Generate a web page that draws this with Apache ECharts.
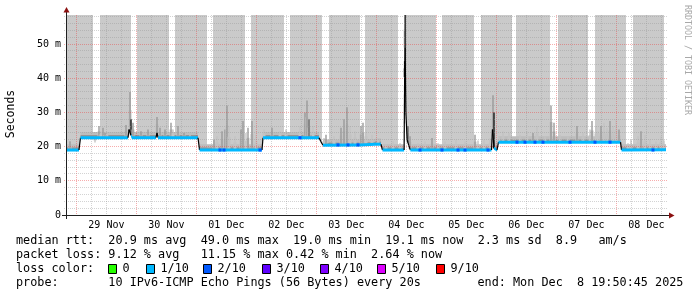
<!DOCTYPE html>
<html><head><meta charset="utf-8">
<script src="https://cdn.jsdelivr.net/npm/echarts@6/dist/echarts.min.js"></script>
<style>html,body{margin:0;padding:0;background:#fff}#c{width:697px;height:297px}</style>
</head><body><div id="c"></div>
<script>
// ===== DATA (time in hours after 28 Nov 00:00, values in ms) =====
const xTickHours  = [36, 60, 84, 108, 132, 156, 180, 204, 228, 252];
const xTickLabels = ['29 Nov','30 Nov','01 Dec','02 Dec','03 Dec','04 Dec','05 Dec','06 Dec','07 Dec','08 Dec'];
const yTickValues = [0, 10, 20, 30, 40, 50];
const yTickLabels = ['0', '10 m', '20 m', '30 m', '40 m', '50 m'];

// grey "smoke" columns (upper pings off-scale)
const bandStart = [20.25, 33.45, 48.25, 63.45, 78.65, 93.85, 109.45, 125.05, 139.45, 155.45, 170.25, 185.85, 199.85, 216.65, 231.45, 246.65];
const bandEnd   = [30.65, 45.85, 61.05, 76.25, 91.45, 107.05, 122.25, 137.45, 152.65, 167.85, 183.05, 198.25, 213.45, 228.65, 243.85, 259.05];

// median rtt path
const medianTime = [19.85, 25.05, 25.65, 44.65, 45.05, 45.85, 46.25, 55.85, 56.25, 56.65, 72.65, 73.25, 98.25, 98.65, 121.05, 121.85, 122.65, 137.45, 143.45, 145.85, 146.45, 155.1, 155.3, 155.5, 155.8, 156.3, 157.0, 157.6, 190.05, 190.45, 191.05, 192.25, 192.85, 241.65, 242.05, 259.85];
const medianRtt  = [19.0, 19.0, 22.6, 22.6, 25.0, 23.3, 22.6, 22.6, 24.0, 22.6, 22.6, 19.0, 19.0, 22.6, 22.6, 21.4, 20.4, 20.5, 20.7, 20.7, 19.0, 19.0, 40.3, 49.0, 30.0, 22.0, 20.3, 19.0, 19.0, 25.0, 19.5, 19.0, 21.3, 21.3, 19.0, 19.1];

// individual smoke spikes: time, top value, shade (0 light .. 3 black)
const smokeTime  = [21.45, 31.45, 33.05, 33.85, 34.65, 35.45, 36.25, 43.85, 45.45, 45.85, 46.65, 49.85, 52.65, 56.25, 57.45, 59.45, 61.85, 62.65, 64.65, 67.05, 69.45, 79.05, 80.25, 82.25, 83.45, 84.25, 85.05, 87.45, 89.85, 90.65, 91.85, 92.65, 94.25, 95.85, 99.05, 102.25, 105.45, 107.85, 113.45, 115.45, 116.25, 117.05, 118.65, 123.05, 123.85, 127.05, 129.85, 131.05, 132.25, 133.45, 135.45, 137.85, 138.65, 139.85, 142.25, 144.65, 147.85, 150.65, 153.45, 155.3, 155.5, 156.65, 157.45, 160.65, 163.45, 166.25, 168.65, 171.45, 175.85, 179.45, 183.45, 184.65, 187.05, 189.45, 190.65, 191.05, 193.05, 194.65, 197.05, 201.45, 204.25, 206.65, 208.25, 211.45, 213.85, 215.05, 217.45, 220.65, 224.25, 226.65, 229.45, 230.25, 231.85, 232.65, 233.85, 235.05, 236.25, 237.45, 238.65, 239.85, 241.05, 244.65, 245.85, 248.65, 249.85, 251.45, 253.45, 255.85, 257.85, 259.05];
const smokeTop   = [21.6, 21.2, 26, 24.5, 25.5, 24, 23.8, 26.3, 36, 28, 27, 24.5, 25, 28.7, 25.5, 25, 27, 25, 26, 24, 23.5, 22, 23, 24.5, 25, 32, 26, 23, 25, 27.5, 24, 25.5, 27.5, 23.5, 25, 25.5, 24.5, 25, 26, 30, 33.5, 28, 26, 22.5, 23.5, 23, 25.5, 28, 31.5, 26, 24.5, 26, 27, 25, 23.5, 22.5, 20.8, 21.6, 21, 45, 58.5, 26, 23, 21, 21.5, 22.5, 21, 21.5, 22, 21.5, 23.5, 21.8, 22, 22.5, 35, 30, 23, 24.5, 24, 23.5, 24.5, 24, 26, 23, 32, 27, 23.5, 23, 26, 24, 25, 27.5, 26, 24.5, 26, 27, 25.5, 27.5, 26, 28, 25, 21, 22, 23, 24.5, 23.5, 22, 21.5, 23, 21.8];
const smokeShade = [1, 0, 1, 0, 1, 1, 0, 1, 1, 3, 1, 1, 1, 1, 1, 1, 1, 0, 1, 1, 0, 1, 0, 1, 1, 1, 0, 0, 1, 1, 0, 1, 1, 0, 0, 1, 0, 0, 0, 1, 1, 2, 0, 0, 1, 0, 1, 1, 1, 0, 0, 1, 1, 0, 0, 0, 0, 0, 0, 3, 3, 2, 1, 0, 0, 1, 0, 0, 0, 0, 1, 0, 0, 0, 1, 3, 0, 0, 0, 0, 0, 1, 0, 0, 1, 1, 0, 0, 1, 0, 0, 1, 0, 0, 1, 0, 0, 1, 0, 0, 1, 0, 0, 0, 1, 0, 0, 0, 0, 0];

// median samples with 2/10 loss (dark blue)
const loss2Time = [81.45, 83.05, 97.45, 113.45, 128.65, 132.65, 136.65, 161.45, 170.25, 176.65, 179.45, 188.65, 200.25, 203.45, 207.45, 210.65, 221.45, 231.45, 237.45, 254.65];
const loss2Rtt  = [19.0, 19.0, 19.0, 22.6, 20.5, 20.5, 20.5, 19.0, 19.0, 19.0, 19.0, 19.0, 21.3, 21.3, 21.3, 21.3, 21.3, 21.3, 21.3, 19.0];

// legend
const lossLabels = ['0', '1/10', '2/10', '3/10', '4/10', '5/10', '9/10'];
const lossColors = ['#26ff00', '#00b8ff', '#0059ff', '#5e00ff', '#7e00ff', '#dd00ff', '#ff0000'];
const legendRow1 = 'median rtt:  20.9 ms avg  49.0 ms max  19.0 ms min  19.1 ms now  2.3 ms sd  8.9   am/s';
const legendRow2 = 'packet loss: 9.12 % avg   11.15 % max 0.42 % min  2.64 % now';
const legendRow3 = 'loss color:';
const legendRow4 = 'probe:       10 IPv6-ICMP Echo Pings (56 Bytes) every 20s';
const legendEnd  = 'end: Mon Dec  8 19:50:45 2025';
const yTitle = 'Seconds';
const watermark = 'RRDTOOL / TOBI OETIKER';

// ===== CHART =====
const T0 = 19.85, T1 = 259.85, YMAX = 58.5;
const MONO = '"DejaVu Sans Mono", monospace';
const chart = echarts.init(document.getElementById('c'), null, {renderer: 'canvas'});

function medianAt(h) {
  if (h <= medianTime[0]) return medianRtt[0];
  for (let i = 0; i < medianTime.length - 1; i++) {
    const a = medianTime[i], b = medianTime[i + 1];
    if (h >= a && h <= b) return b === a ? medianRtt[i + 1] : medianRtt[i] + (medianRtt[i + 1] - medianRtt[i]) * (h - a) / (b - a);
  }
  return medianRtt[medianRtt.length - 1];
}
const medianSegs = [];
for (let i = 0; i < medianTime.length - 1; i++) medianSegs.push([medianTime[i], medianRtt[i], medianTime[i + 1], medianRtt[i + 1]]);

// grid lines (every 6 h / every 2 ms; majors at midnight / every 10 ms)
const vGrid = [], hGrid = [];
for (let h = 24; h < T1; h += 6) vGrid.push([h, h % 24 === 0 ? 1 : 0]);
for (let v = 2; v < YMAX; v += 2) hGrid.push([v, v % 10 === 0 ? 1 : 0]);
const MINOR = 'rgba(150,150,150,0.42)', MAJOR = 'rgba(235,60,60,0.42)';

const shadeCol = ['#c3c3c3', '#9a9a9a', '#6a6a6a', '#1a1a1a'];

const option = {
  animation: false,
  backgroundColor: '#ffffff',
  grid: {left: 66, top: 15, width: 600, height: 200},
  xAxis: {
    type: 'value', min: T0, max: T1,
    axisLine: {show: false}, axisTick: {show: false}, splitLine: {show: false},
    axisLabel: {
      customValues: xTickHours,
      formatter: v => { const i = xTickHours.indexOf(v); return i >= 0 ? xTickLabels[i] : ''; },
      fontFamily: MONO, fontSize: 10, color: '#000', margin: 5
    }
  },
  yAxis: {
    type: 'value', min: 0, max: YMAX, interval: 10,
    axisLine: {show: false}, axisTick: {show: false}, splitLine: {show: false},
    axisLabel: {
      customValues: yTickValues,
      formatter: v => { const i = yTickValues.indexOf(v); return i >= 0 ? yTickLabels[i] : ''; },
      fontFamily: MONO, fontSize: 10, color: '#000', margin: 5
    }
  },
  series: [
    { // grey columns
      type: 'custom', z: 1, silent: true, clip: true,
      data: bandStart.map((s, i) => [s, bandEnd[i]]),
      encode: {x: [0, 1]},
      renderItem(params, api) {
        const s = api.value(0), e = api.value(1);
        const pts = [api.coord([s, YMAX]), api.coord([e, YMAX]), api.coord([e, medianAt(e)])];
        for (let i = medianTime.length - 1; i >= 0; i--) {
          if (medianTime[i] > s && medianTime[i] < e) pts.push(api.coord([medianTime[i], medianRtt[i]]));
        }
        pts.push(api.coord([s, medianAt(s)]));
        return {type: 'polygon', shape: {points: pts}, style: {fill: '#cacaca'}};
      }
    },
    { // smoke band just above median
      type: 'custom', z: 2, silent: true, clip: true,
      data: medianSegs,
      encode: {x: [0, 2], y: [1, 3]},
      renderItem(params, api) {
        const x0 = api.value(0), v0 = api.value(1), x1 = api.value(2), v1 = api.value(3);
        if (Math.abs(v1 - v0) > 0.8) return null;
        const a = api.coord([x0, v0]), b = api.coord([x1, v1]);
        const c = api.coord([x0, v0 + 0.8]), d = api.coord([x0, v0 + 1.7]);
        return {type: 'group', children: [
          {type: 'rect', shape: {x: a[0], y: d[1], width: b[0] - a[0], height: c[1] - d[1]}, style: {fill: '#bdbdbd'}},
          {type: 'rect', shape: {x: a[0], y: c[1], width: b[0] - a[0], height: a[1] - c[1]}, style: {fill: '#969696'}}
        ]};
      }
    },
    { // smoke spikes
      type: 'custom', z: 3, silent: true, clip: true,
      data: smokeTime.map((t, i) => [t, smokeTop[i], smokeShade[i]]),
      encode: {x: 0, y: 1},
      renderItem(params, api) {
        const t = api.value(0), top = api.value(1), sh = api.value(2);
        const base = medianAt(t);
        const p0 = api.coord([t, base]), p1 = api.coord([t, top]);
        const pm = api.coord([t, base + (top - base) * 0.55]);
        return {type: 'group', children: [
          {type: 'rect', shape: {x: p0[0] - 1.5, y: pm[1], width: 3, height: p0[1] - pm[1]}, style: {fill: '#c2c2c2'}},
          {type: 'rect', shape: {x: p0[0] - 0.7, y: p1[1], width: 1.4, height: p0[1] - p1[1]}, style: {fill: shadeCol[sh]}}
        ]};
      }
    },
    { // vertical grid
      type: 'custom', z: 4, silent: true,
      data: vGrid, encode: {x: 0},
      renderItem(params, api) {
        const p = api.coord([api.value(0), 0]);
        const cs = params.coordSys;
        const x = Math.floor(p[0]) + 0.5;
        return {type: 'line', shape: {x1: x, y1: cs.y, x2: x, y2: cs.y + cs.height + 2},
          style: {stroke: api.value(1) ? MAJOR : MINOR, lineWidth: 1, lineDash: [1, 1]}};
      }
    },
    { // horizontal grid
      type: 'custom', z: 4, silent: true,
      data: hGrid, encode: {y: 0},
      renderItem(params, api) {
        const p = api.coord([T0, api.value(0)]);
        const cs = params.coordSys;
        const y = Math.floor(p[1]) + 0.5;
        return {type: 'line', shape: {x1: cs.x - 2, y1: y, x2: cs.x + cs.width + 2, y2: y},
          style: {stroke: api.value(1) ? MAJOR : MINOR, lineWidth: 1, lineDash: [1, 1]}};
      }
    },
    { // median rtt
      type: 'custom', z: 5, silent: true, clip: true,
      data: medianSegs,
      encode: {x: [0, 2], y: [1, 3]},
      renderItem(params, api) {
        const x0 = api.value(0), v0 = api.value(1), x1 = api.value(2), v1 = api.value(3);
        const a = api.coord([x0, v0]), b = api.coord([x1, v1]);
        if (Math.abs(v1 - v0) <= 0.8) {
          return {type: 'polygon', shape: {points: [[a[0], a[1] - 1.5], [b[0], b[1] - 1.5], [b[0], b[1] + 1.5], [a[0], a[1] + 1.5]]},
            style: {fill: '#00b8ff'}};
        }
        return {type: 'line', shape: {x1: a[0], y1: a[1], x2: b[0], y2: b[1]}, style: {stroke: '#000', lineWidth: 1.2}};
      }
    },
    { // 2/10 loss samples
      type: 'custom', z: 6, silent: true, clip: true,
      data: loss2Time.map((t, i) => [t, loss2Rtt[i]]),
      encode: {x: 0, y: 1},
      renderItem(params, api) {
        const p = api.coord([api.value(0), api.value(1)]);
        return {type: 'rect', shape: {x: p[0] - 1.5, y: p[1] - 1.5, width: 3, height: 3}, style: {fill: '#0059ff'}};
      }
    }
  ],
  graphic: {elements: [
    // axes with arrows
    {type: 'line', z: 10, shape: {x1: 62, y1: 215.5, x2: 669, y2: 215.5}, style: {stroke: '#202020', lineWidth: 1}},
    {type: 'line', z: 10, shape: {x1: 66.5, y1: 219, x2: 66.5, y2: 12}, style: {stroke: '#202020', lineWidth: 1}},
    {type: 'polygon', z: 11, shape: {points: [[63.5, 12.5], [69.5, 12.5], [66.5, 7]]}, style: {fill: '#8b1010'}},
    {type: 'polygon', z: 11, shape: {points: [[669, 212.5], [669, 218.5], [674.5, 215.5]]}, style: {fill: '#8b1010'}},
    // titles
    {type: 'text', x: 11, y: 114, rotation: Math.PI / 2,
      style: {text: yTitle, font: '11.5px ' + MONO, fill: '#000', align: 'center', verticalAlign: 'middle', textAlign: 'center', textVerticalAlign: 'middle'}},
    {type: 'text', x: 687, y: 60, rotation: -Math.PI / 2,
      style: {text: watermark, font: '8.3px ' + MONO, fill: '#a8a8a8', align: 'center', verticalAlign: 'middle', textAlign: 'center', textVerticalAlign: 'middle'}},
    // legend rows
    {type: 'text', x: 16, y: 241, style: {text: legendRow1, font: '11.8px ' + MONO, fill: '#000', verticalAlign: 'middle', textVerticalAlign: 'middle'}},
    {type: 'text', x: 16, y: 255, style: {text: legendRow2, font: '11.8px ' + MONO, fill: '#000', verticalAlign: 'middle', textVerticalAlign: 'middle'}},
    {type: 'text', x: 16, y: 269, style: {text: legendRow3, font: '11.8px ' + MONO, fill: '#000', verticalAlign: 'middle', textVerticalAlign: 'middle'}},
    {type: 'text', x: 16, y: 283, style: {text: legendRow4, font: '11.8px ' + MONO, fill: '#000', verticalAlign: 'middle', textVerticalAlign: 'middle'}},
    {type: 'text', x: 477.5, y: 283, style: {text: legendEnd, font: '11.8px ' + MONO, fill: '#000', verticalAlign: 'middle', textVerticalAlign: 'middle'}}
  ].concat((function () {
    const boxX = [108, 146, 203, 262, 320, 377, 436];
    const out = [];
    lossLabels.forEach((lab, i) => {
      out.push({type: 'rect', z: 10, shape: {x: boxX[i] + 0.5, y: 264.5, width: 8, height: 9}, style: {fill: lossColors[i], stroke: '#000', lineWidth: 1}});
      out.push({type: 'text', x: boxX[i] + 14.5, y: 269, style: {text: lab, font: '11.8px ' + MONO, fill: '#000', verticalAlign: 'middle', textVerticalAlign: 'middle'}});
    });
    return out;
  })())}
};
chart.setOption(option);
</script>
</body></html>
